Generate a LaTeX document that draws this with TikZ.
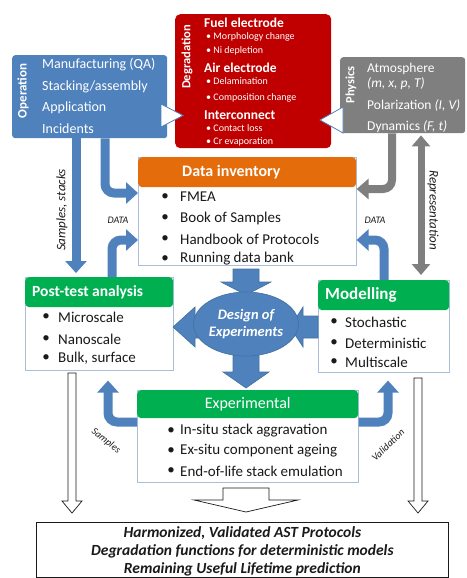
\documentclass[tikz,border=0pt]{standalone}
\usepackage{fontspec}
\setmainfont{Carlito}
\usetikzlibrary{arrows.meta,positioning,calc,shapes.geometric}
\definecolor{opblue}{HTML}{4F81BD}
\definecolor{bluedge}{HTML}{41719C}
\definecolor{degred}{HTML}{C00000}
\definecolor{physgray}{HTML}{7F7F7F}
\definecolor{invorange}{HTML}{E46C0A}
\definecolor{hdgreen}{HTML}{00B050}
\definecolor{boxline}{HTML}{A9BFD9}
\definecolor{ink}{HTML}{1A1A1A}
\newcommand{\fsz}[1]{\fontsize{#1}{#1}\selectfont}
% down-pointing block arrow: style, x, top, tip, shaft half, head half, head length
\newcommand{\vblock}[7]{%
  \draw[#1] ({#2-#5},#3) -- ({#2+#5},#3) -- ({#2+#5},{#4-#7}) -- ({#2+#6},{#4-#7})
    -- (#2,#4) -- ({#2-#6},{#4-#7}) -- ({#2-#5},{#4-#7}) -- cycle;}
% left-pointing block arrow: style, y, start x, tip x, shaft half, head half, head length
\newcommand{\hblock}[7]{%
  \draw[#1] (#3,{#2-#5}) -- (#3,{#2+#5}) -- ({#4+#7},{#2+#5}) -- ({#4+#7},{#2+#6})
    -- (#4,#2) -- ({#4+#7},{#2-#6}) -- ({#4+#7},{#2-#5}) -- cycle;}
\tikzset{
  colbox/.style={fill=#1,rounded corners=3pt,anchor=north west,inner sep=0pt},
  panel/.style={draw=boxline,fill=white,line width=0.6pt,anchor=north west,inner sep=0pt},
  header/.style={fill=#1,rounded corners=4pt,anchor=north west,inner sep=0pt},
  sidelabel/.style={rotate=90,text=white,font=\fsz{13}\bfseries,inner sep=0pt},
  optext/.style={anchor=west,text=white,font=\fsz{14},inner sep=0pt},
  degtitle/.style={anchor=west,text=white,font=\fsz{13.5}\bfseries,inner sep=0pt},
  degitem/.style={anchor=west,text=white,font=\fsz{10},inner sep=0pt},
  title/.style={text=white,font=\fsz{16}\bfseries,inner sep=0pt},
  item/.style={anchor=west,text=ink,font=\fsz{15},inner sep=0pt},
  bullet/.style={text=ink,font=\fsz{15},inner sep=0pt},
  flowlabel/.style={text=ink,font=\fsz{13}\itshape,inner sep=0pt},
  smalllabel/.style={text=ink,font=\fsz{10}\itshape,inner sep=0pt},
  bluearr/.style={draw=opblue,line width=9pt,rounded corners=9pt,
                  -{Triangle[width=21pt,length=12pt]}},
  grayarr/.style={draw=physgray,line width=8pt,rounded corners=9pt,
                  -{Triangle[width=20pt,length=12pt]}},
  blockarr/.style={fill=opblue,draw=bluedge,line width=0.6pt},
  hollowarr/.style={fill=white,draw=ink,line width=0.7pt},
  wedge/.style={fill=white,draw=opblue,line width=0.8pt,line join=miter}
}
\begin{document}
\begin{tikzpicture}[x=1pt,y=-1pt]
  \useasboundingbox (0,0) rectangle (466,578);
  % operation
  \node[colbox=opblue,minimum width=155pt,minimum height=83pt] (oper) at (12,55) {};
  \node[sidelabel] (operlbl) at (23,91) {Operation};
  \foreach \t/\y in {{Manufacturing (QA)}/65,{Stacking/assembly}/87,Application/108,Incidents/129}
    \node[optext] at (42,\y) {\t};
  % degradation
  \node[colbox=degred,rounded corners=5pt,minimum width=156pt,minimum height=134pt] (degr) at (175,14) {};
  \node[sidelabel,font=\fsz{12.5}\bfseries] (degrlbl) at (187,57) {Degradation};
  \foreach \t/\y in {Fuel electrode/23,Air electrode/68,Interconnect/115}
    \node[degtitle] at (204,\y) {\t};
  \foreach \t/\y in {Morphology change/37,Ni depletion/51,Delamination/81,
                     Composition change/98,Contact loss/128,Cr evaporation/142}
    \node[degitem] at (206,\y) {\textbullet\ \t};
  % physics
  \node[colbox=physgray,minimum width=125pt,minimum height=76pt] (phys) at (340,57) {};
  \node[sidelabel,font=\fsz{12.5}\bfseries] (physlbl) at (351,85) {Physics};
  \foreach \t/\y in {Atmosphere/69,{\textit{(m, x, p, T)}}/84,{Polarization \textit{(I, V)}}/105,
                     {Dynamics \textit{(F, t)}}/127}
    \node[optext,font=\fsz{13.5}] at (367,\y) {\t};
  % wedges into degradation
  \draw[wedge] (161,104) -- (183,115.5) -- (161,127) -- cycle;
  \draw[wedge] (343,107) -- (320,120) -- (343,133) -- cycle;
  % data inventory
  \node[panel,minimum width=218pt,minimum height=108pt] (dinv) at (138,157) {};
  \node[header=invorange,minimum width=218pt,minimum height=30pt] (dinvhd) at (dinv.north west) {};
  \node[title,anchor=west] at (182,172) {Data inventory};
  \foreach \t/\y in {FMEA/197,Book of Samples/218,Handbook of Protocols/239,Running data bank/259} {
    \node[bullet] at (165,\y) {\textbullet};
    \node[item] at (180,\y) {\t};
  }
  % post-test analysis
  \node[panel,minimum width=148pt,minimum height=93pt] (post) at (25,277) {};
  \node[header=hdgreen,minimum width=148pt,minimum height=30pt] (posthd) at (post.north west) {};
  \node[title,anchor=west,font=\fsz{15.5}\bfseries] at (32,292) {Post-test analysis};
  \foreach \t/\y in {Microscale/317,Nanoscale/339,{Bulk, surface}/358} {
    \node[bullet] at (46,\y) {\textbullet};
    \node[item] at (58,\y) {\t};
  }
  % modelling
  \node[panel,minimum width=131pt,minimum height=92pt] (model) at (318,280) {};
  \node[header=hdgreen,minimum width=131pt,minimum height=30pt] (modelhd) at (model.north west) {};
  \node[title,anchor=west,font=\fsz{17}\bfseries] at (325,295) {Modelling};
  \foreach \t/\y in {Stochastic/322,Deterministic/343,Multiscale/362} {
    \node[bullet] at (334,\y) {\textbullet};
    \node[item] at (345,\y) {\t};
  }
  % experimental
  \node[panel,minimum width=221pt,minimum height=92pt] (exper) at (137,390) {};
  \node[header=hdgreen,minimum width=221pt,minimum height=28pt] (experhd) at (exper.north west) {};
  \node[title,font=\fsz{16}] at (experhd.center) {Experimental};
  \foreach \t/\y in {In-situ stack aggravation/431,Ex-situ component ageing/451,
                     End-of-life stack emulation/471} {
    \node[bullet] at (171,\y) {\textbullet};
    \node[item] at (180,\y) {\t};
  }
  % block arrows round the design of experiments
  \vblock{blockarr}{246}{269}{295}{13}{25}{13}
  \vblock{blockarr}{246}{354}{388}{13}{23}{16}
  \hblock{blockarr}{327}{210}{173}{11}{20}{22}
  \hblock{blockarr}{327}{318}{290}{11}{20}{13}
  \node[ellipse,fill=opblue,draw=bluedge,line width=0.6pt,minimum width=84pt,minimum height=64pt,
        inner sep=0pt,align=center,text=white,font=\fsz{14.5}\bfseries\itshape] (doe) at (246,324)
    {Design of\\[2pt]Experiments};
  % flows into the data inventory
  \draw[bluearr,shorten >=4pt]
    ([xshift=64pt]oper.south west) -- ([xshift=51pt]post.north west);
  \draw[bluearr] ([xshift=93pt]oper.south west) |- ([yshift=-36pt]dinv.north west);
  \draw[bluearr] ([xshift=87pt]post.north west) |- ([yshift=-83pt]dinv.north west);
  \draw[bluearr] ([xshift=66pt]model.north west) |- ([yshift=-83pt]dinv.north east);
  \draw[grayarr] ([xshift=52pt]phys.south west) |- ([yshift=-32pt]dinv.north east);
  \draw[grayarr,line width=7pt,{Triangle[width=18pt,length=11pt]}-{Triangle[width=18pt,length=11pt]},
        shorten <=2pt,shorten >=5pt]
    ([xshift=81pt]phys.south west) -- ([xshift=103pt]model.north west);
  % flows out of the experiments
  \draw[bluearr,shorten >=10pt] ([yshift=-32pt]exper.north west) -| ([xshift=83pt]post.south west);
  \draw[bluearr,shorten >=8pt] ([yshift=-32pt]exper.north east) -| ([xshift=70pt]model.south west);
  % flow labels
  \node[flowlabel,rotate=90] (lblsamp) at (62,210) {Samples, stacks};
  \node[flowlabel,rotate=-90] (lblrep) at (433,210) {Representation};
  \node[smalllabel] (lbldatal) at (118,220) {DATA};
  \node[smalllabel] (lbldatar) at (375,220) {DATA};
  \node[smalllabel,rotate=-38] (lblsmp) at (106,441) {Samples};
  \node[smalllabel,rotate=44] (lblval) at (388,445) {Validation};
  % hollow arrows to the results
  \vblock{hollowarr}{72}{373}{513}{4}{10}{12}
  \vblock{hollowarr}{418}{378}{513}{4}{10}{12}
  \vblock{hollowarr}{246}{488}{512}{23}{52}{12}
  % results
  \node[draw=ink,fill=white,line width=0.8pt,anchor=north west,minimum width=412pt,minimum height=55pt,
        inner sep=0pt] (result) at (36,522) {};
  \node[align=center,text=ink,font=\fontsize{15.5}{18}\selectfont\bfseries\itshape] (resulttxt)
    at ([yshift=-1pt]result.center)
    {Harmonized, Validated AST Protocols\\Degradation functions for deterministic models\\
     Remaining Useful Lifetime prediction};
\end{tikzpicture}
\end{document}
